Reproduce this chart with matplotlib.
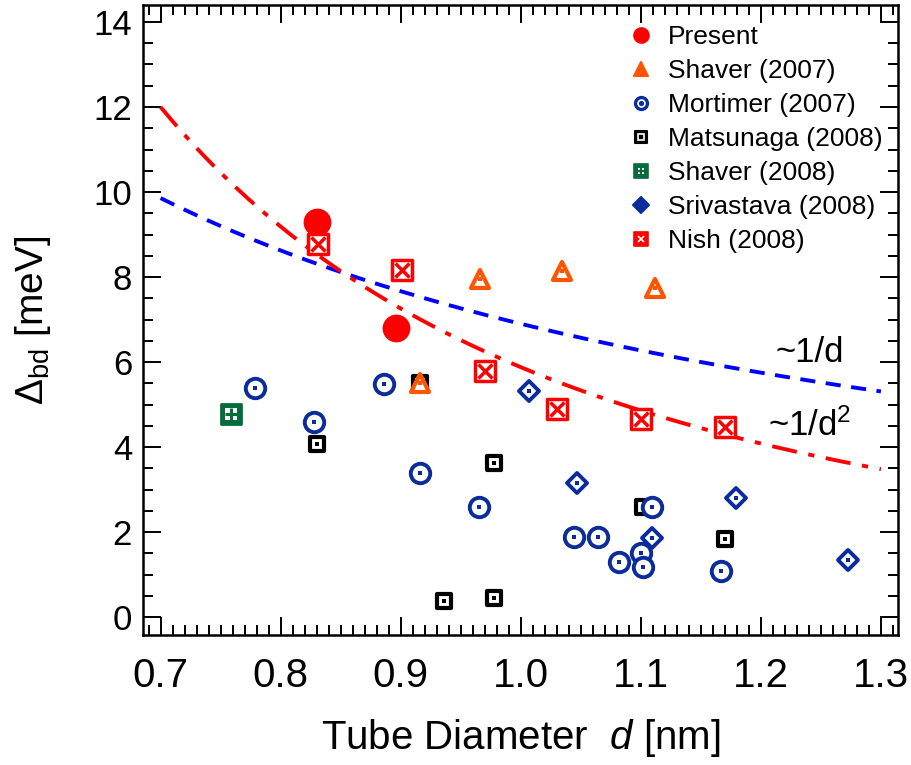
import numpy as np
import matplotlib
matplotlib.use("Agg")
import matplotlib.pyplot as plt
from matplotlib.markers import MarkerStyle
from matplotlib.ticker import MultipleLocator

plt.rcParams["font.family"] = ["Liberation Sans", "DejaVu Sans"]
plt.rcParams["mathtext.fontset"] = "custom"
plt.rcParams["mathtext.rm"] = "Liberation Sans"
plt.rcParams["mathtext.it"] = "Liberation Sans:italic"

# --- data (d in nm, Delta_bd in meV) ---
present_d = [0.830, 0.896]
present_e = [9.30, 6.80]

shaver07_d = [0.916, 0.966, 1.034, 1.112]
shaver07_e = [5.50, 7.95, 8.14, 7.74]

mortimer_d = [0.779, 0.828, 0.886, 0.916, 0.965, 1.044, 1.064, 1.082, 1.100, 1.102, 1.109, 1.167]
mortimer_e = [5.38, 4.58, 5.48, 3.38, 2.58, 1.89, 1.89, 1.29, 1.51, 1.17, 2.58, 1.09]

matsunaga_d = [0.830, 0.916, 0.936, 0.978, 0.978, 1.102, 1.170]
matsunaga_e = [4.07, 5.50, 0.38, 0.44, 3.63, 2.58, 1.84]

shaver08_d = [0.759]
shaver08_e = [4.78]

srivastava_d = [1.007, 1.047, 1.109, 1.179, 1.273]
srivastava_e = [5.32, 3.16, 1.87, 2.81, 1.34]

nish_d = [0.831, 0.901, 0.970, 1.030, 1.100, 1.170]
nish_e = [8.78, 8.16, 5.79, 4.89, 4.66, 4.47]

# fitted guides: A/d and B/d^2
fit_a = 6.9
fit_b = 5.88
fit_range = (0.7, 1.3)

RED = "#FF0000"
ORANGE = "#FF5500"
NAVY = "#0B2C9C"
GREEN = "#076B3B"

fig = plt.figure(figsize=(9.12, 7.65), dpi=100)
ax = fig.add_axes([0.157, 0.170, 0.828, 0.8235])

d_fit = np.linspace(fit_range[0], fit_range[1], 200)
ax.plot(d_fit, fit_a / d_fit, color="#0000FF", lw=2.8, ls=(0, (3.9, 2.7)), zorder=2)
ax.plot(d_fit, fit_b / d_fit**2, color=RED, lw=2.8, ls=(0, (6.5, 3, 1.6, 3)), zorder=2)


def rnd(m):
    return MarkerStyle(m, joinstyle="round")


# Matsunaga (2008): black open squares with centre dot
ax.plot(matsunaga_d, matsunaga_e, ls="none", marker=rnd("s"), ms=10, mew=3,
        mfc="white", mec="black", zorder=3)
ax.plot(matsunaga_d, matsunaga_e, ls="none", marker="s", ms=3, mew=0,
        mfc="black", zorder=3.1)

# Mortimer (2007): navy open circles with centre dot
ax.plot(mortimer_d, mortimer_e, ls="none", marker="o", ms=14, mew=2.8,
        mfc="white", mec=NAVY, zorder=4)
ax.plot(mortimer_d, mortimer_e, ls="none", marker="s", ms=3, mew=0,
        mfc=NAVY, zorder=4.1)

# Srivastava (2008): navy open diamonds
ax.plot(srivastava_d, srivastava_e, ls="none", marker=rnd("D"), ms=10.5, mew=2.8,
        mfc="white", mec=NAVY, zorder=4.2)
ax.plot(srivastava_d, srivastava_e, ls="none", marker="s", ms=3, mew=0,
        mfc=NAVY, zorder=4.3)

# Shaver (2007): orange open triangles
ax.plot(shaver07_d, shaver07_e, ls="none", marker=rnd("^"), ms=13, mew=3,
        mfc="white", mec=ORANGE, zorder=5)
ax.plot(shaver07_d, shaver07_e, ls="none", marker="s", ms=3.5, mew=0,
        mfc=ORANGE, zorder=5.1)

# Shaver (2008): green filled square with white dots
ax.plot(shaver08_d, shaver08_e, ls="none", marker=rnd("s"), ms=14, mew=2,
        mfc=GREEN, mec=GREEN, zorder=5)
ax.plot(shaver08_d, shaver08_e, ls="none", marker="s", ms=8, mew=0,
        mfc="white", zorder=5.1)
ax.plot(shaver08_d, shaver08_e, ls="none", marker="+", ms=9, mew=2.2,
        mec=GREEN, zorder=5.2)

# Present: red filled circles
ax.plot(present_d, present_e, ls="none", marker="o", ms=20, mew=0,
        mfc=RED, zorder=6)

# Nish (2008): red open squares with an X
ax.plot(nish_d, nish_e, ls="none", marker=rnd("s"), ms=15, mew=2.5,
        mfc="white", mec=RED, zorder=7)
ax.plot(nish_d, nish_e, ls="none", marker="x", ms=10.5, mew=2.5,
        mec=RED, zorder=7.1)

ax.text(1.212, 6.0, "~1/d", fontsize=25, zorder=8)
ax.text(1.206, 4.26, "~1/d$^2$", fontsize=25, zorder=8)


# legend with small composite markers
def lg(marker, fc, ec, ms, mew=0):
    return plt.Line2D([], [], ls="none", marker=marker, ms=ms, mfc=fc, mec=ec, mew=mew)


handles = [
    lg("o", RED, RED, 12),
    lg(rnd("^"), ORANGE, ORANGE, 10, 1.5),
    (lg("o", NAVY, NAVY, 11), lg("o", "none", "white", 5, 1.2)),
    (lg(rnd("s"), "black", "black", 9, 1.5), lg("s", "none", "white", 5, 1.2)),
    (lg(rnd("s"), GREEN, GREEN, 10, 1.2), lg("s", "white", "white", 5),
     lg("+", GREEN, GREEN, 6, 1.6)),
    lg(rnd("D"), NAVY, NAVY, 8, 1.5),
    (lg(rnd("s"), RED, RED, 10, 1.2), lg("x", RED, "white", 5, 1.2)),
]
labels = ["Present", "Shaver (2007)", "Mortimer (2007)", "Matsunaga (2008)",
          "Shaver (2008)", "Srivastava (2008)", "Nish (2008)"]
ax.legend(handles, labels, loc="upper right", bbox_to_anchor=(1.005, 1.0),
          frameon=False, fontsize=19, handlelength=0.8, handletextpad=0.6,
          labelspacing=0.38, borderaxespad=0.35)

ax.set_xlim(0.6855, 1.3145)
ax.set_ylim(-0.42, 14.4)
ax.xaxis.set_major_locator(MultipleLocator(0.1))
ax.xaxis.set_minor_locator(MultipleLocator(0.01))
ax.yaxis.set_major_locator(MultipleLocator(2))
ax.yaxis.set_minor_locator(MultipleLocator(0.5))
ax.xaxis.set_major_formatter(plt.FormatStrFormatter("%.1f"))
ax.tick_params(which="both", direction="in", top=True, right=True, width=1.4)
ax.tick_params(which="major", length=13)
ax.tick_params(which="minor", length=7)
ax.tick_params(axis="x", labelsize=29, pad=16)
ax.tick_params(axis="y", labelsize=25, pad=8)
for s in ax.spines.values():
    s.set_linewidth(1.8)

ax.set_xlabel("Tube Diameter  $d$ [nm]", fontsize=29, labelpad=16)
ax.set_ylabel(r"$\mathit{\Delta}_{\mathrm{bd}}$ [meV]", fontsize=28, labelpad=29)

fig.savefig("out.png", dpi=100)
